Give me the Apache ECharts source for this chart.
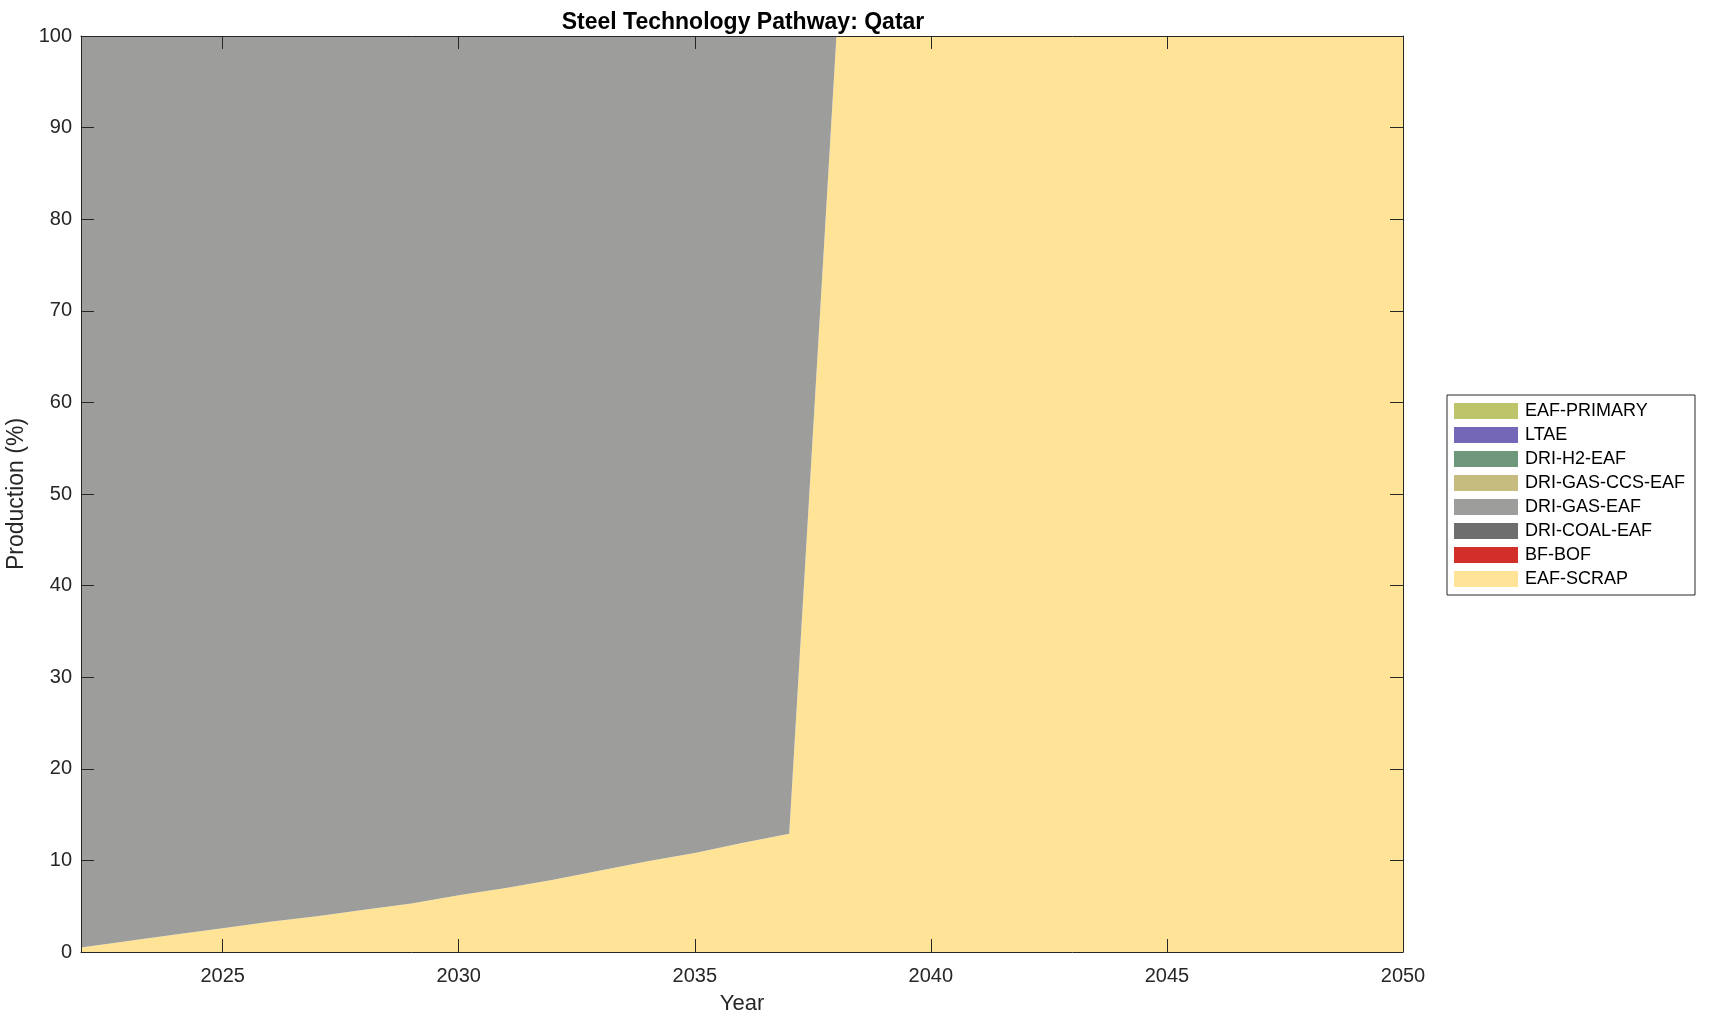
<!DOCTYPE html>
<html>
<head>
<meta charset="utf-8">
<script src="https://cdn.jsdelivr.net/npm/echarts@6/dist/echarts.min.js"></script>
<style>
  html, body { margin: 0; padding: 0; background: #ffffff; }
  #chart { width: 1709px; height: 1021px; }
</style>
</head>
<body>
<div id="chart"></div>
<script>
// ---- data ----
const years = [2022,2023,2024,2025,2026,2027,2028,2029,2030,2031,2032,2033,2034,2035,2036,2037,2038,2039,2040,2041,2042,2043,2044,2045,2046,2047,2048,2049,2050];
const eafScrap     = [0.5,1.2,1.9,2.6,3.3,3.9,4.6,5.3,6.2,7.0,7.9,8.9,9.9,10.8,11.9,12.9,100,100,100,100,100,100,100,100,100,100,100,100,100];
const bfBof        = [0,0,0,0,0,0,0,0,0,0,0,0,0,0,0,0,0,0,0,0,0,0,0,0,0,0,0,0,0];
const driCoalEaf   = [0,0,0,0,0,0,0,0,0,0,0,0,0,0,0,0,0,0,0,0,0,0,0,0,0,0,0,0,0];
const driGasEaf    = [99.5,98.8,98.1,97.4,96.7,96.1,95.4,94.7,93.8,93.0,92.1,91.1,90.1,89.2,88.1,87.1,0,0,0,0,0,0,0,0,0,0,0,0,0];
const driGasCcsEaf = [0,0,0,0,0,0,0,0,0,0,0,0,0,0,0,0,0,0,0,0,0,0,0,0,0,0,0,0,0];
const driH2Eaf     = [0,0,0,0,0,0,0,0,0,0,0,0,0,0,0,0,0,0,0,0,0,0,0,0,0,0,0,0,0];
const ltae         = [0,0,0,0,0,0,0,0,0,0,0,0,0,0,0,0,0,0,0,0,0,0,0,0,0,0,0,0,0];
const eafPrimary   = [0,0,0,0,0,0,0,0,0,0,0,0,0,0,0,0,0,0,0,0,0,0,0,0,0,0,0,0,0];
const xTickValues = [2025,2030,2035,2040,2045,2050];
const yTickValues = [0,10,20,30,40,50,60,70,80,90,100];

const seriesDefs = [
  { name: 'EAF-SCRAP',       values: eafScrap,     color: '#ffe497' },
  { name: 'BF-BOF',          values: bfBof,        color: '#d32f2a' },
  { name: 'DRI-COAL-EAF',    values: driCoalEaf,   color: '#6e6e6e' },
  { name: 'DRI-GAS-EAF',     values: driGasEaf,    color: '#9d9d9b' },
  { name: 'DRI-GAS-CCS-EAF', values: driGasCcsEaf, color: '#c6bc80' },
  { name: 'DRI-H2-EAF',      values: driH2Eaf,     color: '#6f977b' },
  { name: 'LTAE',            values: ltae,         color: '#7467b8' },
  { name: 'EAF-PRIMARY',     values: eafPrimary,   color: '#bdc46a' }
];

const FONT = '"Liberation Sans", Arial, Helvetica, sans-serif';
const AX = '#262626';

const chart = echarts.init(document.getElementById('chart'), null, { renderer: 'canvas' });

const series = seriesDefs.map(d => ({
  name: d.name,
  type: 'line',
  stack: 'total',
  xAxisIndex: 0,
  yAxisIndex: 0,
  data: d.values.slice(),
  showSymbol: false,
  symbol: 'none',
  lineStyle: { width: 0, color: d.color },
  itemStyle: { color: d.color },
  areaStyle: { color: d.color, opacity: 1 },
  emphasis: { disabled: true },
  silent: true,
  z: 2
}));

const yearCats = years.map(String);
const isTickYear = (idx) => xTickValues.indexOf(years[idx]) >= 0;

const baseX = {
  type: 'category', data: yearCats, boundaryGap: false, z: 10,
  splitLine: { show: false },
  axisLine: { show: true, onZero: false, lineStyle: { color: AX, width: 1 } },
  axisTick: { show: true, inside: true, length: 13, interval: isTickYear, lineStyle: { color: AX } }
};
const baseY = {
  type: 'value', min: 0, max: 100, interval: 10, z: 10,
  splitLine: { show: false },
  axisLine: { show: true, onZero: false, lineStyle: { color: AX, width: 1 } },
  axisTick: { show: true, inside: true, length: 13, lineStyle: { color: AX } }
};

const option = {
  backgroundColor: '#ffffff',
  animation: false,
  title: {
    text: 'Steel Technology Pathway: Qatar',
    left: 738, top: 6, textAlign: 'center',
    textStyle: { fontFamily: FONT, fontSize: 23, fontWeight: 'bold', color: '#000' }
  },
  grid: { left: 81, top: 36, width: 1322, height: 916, containLabel: false, outerBoundsMode: 'none' },
  legend: {
    orient: 'vertical',
    left: 1447, top: 395,
    data: seriesDefs.map(d => d.name).reverse(),
    icon: 'rect',
    itemWidth: 64, itemHeight: 16, itemGap: 6,
    padding: [7, 10, 7, 7],
    borderColor: AX, borderWidth: 1,
    backgroundColor: '#ffffff',
    textStyle: { fontFamily: FONT, fontSize: 18, color: '#000', padding: [0, 0, 0, 2] },
    selectedMode: false
  },
  xAxis: [
    Object.assign({}, baseX, {
      position: 'bottom',
      name: 'Year', nameLocation: 'middle', nameGap: 41,
      nameTextStyle: { fontFamily: FONT, fontSize: 22, color: AX },
      axisLabel: { show: true, interval: isTickYear, margin: 14, fontFamily: FONT, fontSize: 20, color: AX }
    }),
    Object.assign({}, baseX, {
      position: 'top',
      axisLabel: { show: false }
    })
  ],
  yAxis: [
    Object.assign({}, baseY, {
      position: 'left',
      name: 'Production (%)', nameLocation: 'middle', nameGap: 44,
      nameTextStyle: { fontFamily: FONT, fontSize: 23, color: AX },
      axisLabel: { show: true, margin: 9, fontFamily: FONT, fontSize: 20, color: AX }
    }),
    Object.assign({}, baseY, {
      position: 'right',
      axisLabel: { show: false }
    })
  ],
  series: series
};

chart.setOption(option);
</script>
</body>
</html>
